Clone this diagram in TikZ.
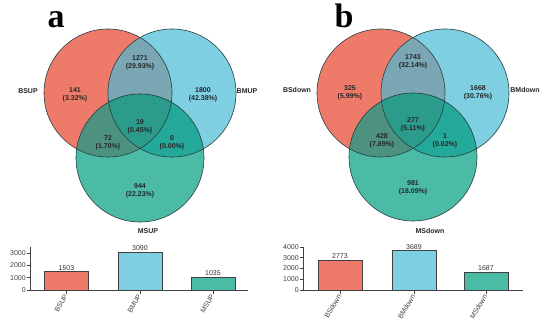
\documentclass[tikz,border=0pt]{standalone}
\usepackage{fontspec}
\setmainfont{Liberation Sans}
\newfontfamily\panelfont{Liberation Serif}
\usetikzlibrary{positioning}

\definecolor{vred}{HTML}{EE7B6A}
\definecolor{vblue}{HTML}{7ECFE2}
\definecolor{vgreen}{HTML}{4BBBA6}
\definecolor{vrb}{HTML}{7AA7B3}
\definecolor{vbg}{HTML}{24A899}
\definecolor{vrg}{HTML}{4C927F}
\definecolor{vrbg}{HTML}{2B9C8B}
\definecolor{vline}{HTML}{263F40}
\definecolor{axisgray}{HTML}{404040}

\begin{document}
\begin{tikzpicture}[
    x=1pt, y=-1pt,
    circ/.style={draw=vline, line width=0.6pt}, % Venn outlines
    count/.style={font=\bfseries\fontsize{7}{7.8}\selectfont, align=center, text=black!85},
    setname/.style={font=\bfseries\fontsize{7}{8}\selectfont, text=black!85},
    panel/.style={font=\panelfont\bfseries\fontsize{34}{34}\selectfont, anchor=base},
    bar/.style={draw=axisgray, line width=0.6pt},
    axis/.style={draw=axisgray, line width=0.6pt},
    ticklab/.style={font=\fontsize{7}{8}\selectfont, text=axisgray, anchor=east, inner sep=1pt},
    barlab/.style={font=\fontsize{7}{8}\selectfont, text=axisgray, anchor=east, rotate=60, inner sep=1pt},
    vallab/.style={font=\fontsize{7}{8}\selectfont, text=black!80, anchor=south, inner sep=1pt}
]
    \useasboundingbox (0,0) rectangle (550,329);
    \def\vr{64pt} % circle radius

    % --- Venn diagrams ---
    \foreach \dx/\gy in {0/158, 273/157} {
        \begin{scope}[xshift=\dx]
            \coordinate (S) at (108,93);
            \coordinate (B) at (172,93);
            \coordinate (M) at (140,\gy);
            \fill[vred] (S) circle[radius=\vr];
            \fill[vblue] (B) circle[radius=\vr];
            \begin{scope}
                \clip (S) circle[radius=\vr];
                \fill[vrb] (B) circle[radius=\vr];
            \end{scope}
            \fill[vgreen] (M) circle[radius=\vr];
            \begin{scope}
                \clip (M) circle[radius=\vr];
                \fill[vrg] (S) circle[radius=\vr];
                \fill[vbg] (B) circle[radius=\vr];
                \clip (S) circle[radius=\vr];
                \fill[vrbg] (B) circle[radius=\vr];
            \end{scope}
            \draw[circ] (S) circle[radius=\vr];
            \draw[circ] (B) circle[radius=\vr];
            \draw[circ] (M) circle[radius=\vr];
        \end{scope}
    }

    % --- Panel a ---
    \node[panel] (pa) at (56,28) {a};
    \node[setname] (bsup) at (28,91) {BSUP};
    \node[setname] (bmup) at (247,91) {BMUP};
    \node[setname] (msup) at (148,231) {MSUP};
    \node[count] (a1) at (75,95) {141\\(3.32\%)};
    \node[count] (a2) at (140,63) {1271\\(29.93\%)};
    \node[count] (a3) at (203,95) {1800\\(42.38\%)};
    \node[count] (a4) at (140,127) {19\\(0.45\%)};
    \node[count] (a5) at (108,143) {72\\(1.70\%)};
    \node[count] (a6) at (172,143) {0\\(0.00\%)};
    \node[count] (a7) at (140,191) {944\\(22.23\%)};

    % --- Panel b ---
    \node[panel] (pb) at (344,28) {b};
    \node[setname] (bsdown) at (297,90) {BSdown};
    \node[setname] (bmdown) at (525,90) {BMdown};
    \node[setname] (msdown) at (430,231) {MSdown};
    \node[count] (b1) at (350,93) {325\\(5.99\%)};
    \node[count] (b2) at (413,62) {1743\\(32.14\%)};
    \node[count] (b3) at (478,93) {1668\\(30.76\%)};
    \node[count] (b4) at (413,125) {277\\(5.11\%)};
    \node[count] (b5) at (382,141) {428\\(7.89\%)};
    \node[count] (b6) at (445,141) {1\\(0.02\%)};
    \node[count] (b7) at (413,188) {981\\(18.09\%)};

    % --- Bar chart a ---
    \draw[axis] (30,247) -- (30,290) -- (248,290);
    \foreach \v in {0,1000,2000,3000} {
        \draw[axis] (30,{290-\v*0.01233}) -- (27,{290-\v*0.01233})
            node[ticklab] {\v};
    }
    \foreach \name/\val/\xc/\col in {BSUP/1503/66.5/vred, BMUP/3090/140/vblue, MSUP/1035/213/vgreen} {
        \draw[bar, fill=\col] ({\xc-22},290) rectangle ({\xc+22},{290-\val*0.01233});
        \node[vallab] at (\xc,{290-\val*0.01233}) {\val};
        \draw[axis] (\xc,290) -- (\xc,294) node[barlab] {\name};
    }

    % --- Bar chart b ---
    \draw[axis] (303,247) -- (303,290) -- (523,290);
    \foreach \v in {0,1000,2000,3000,4000} {
        \draw[axis] (303,{290-\v*0.01075}) -- (300,{290-\v*0.01075})
            node[ticklab] {\v};
    }
    \foreach \name/\val/\xc/\col in {BSdown/2773/340/vred, BMdown/3689/414/vblue, MSdown/1687/486/vgreen} {
        \draw[bar, fill=\col] ({\xc-22},290) rectangle ({\xc+22},{290-\val*0.01075});
        \node[vallab] at (\xc,{290-\val*0.01075}) {\val};
        \draw[axis] (\xc,290) -- (\xc,294) node[barlab] {\name};
    }

\end{tikzpicture}
\end{document}
